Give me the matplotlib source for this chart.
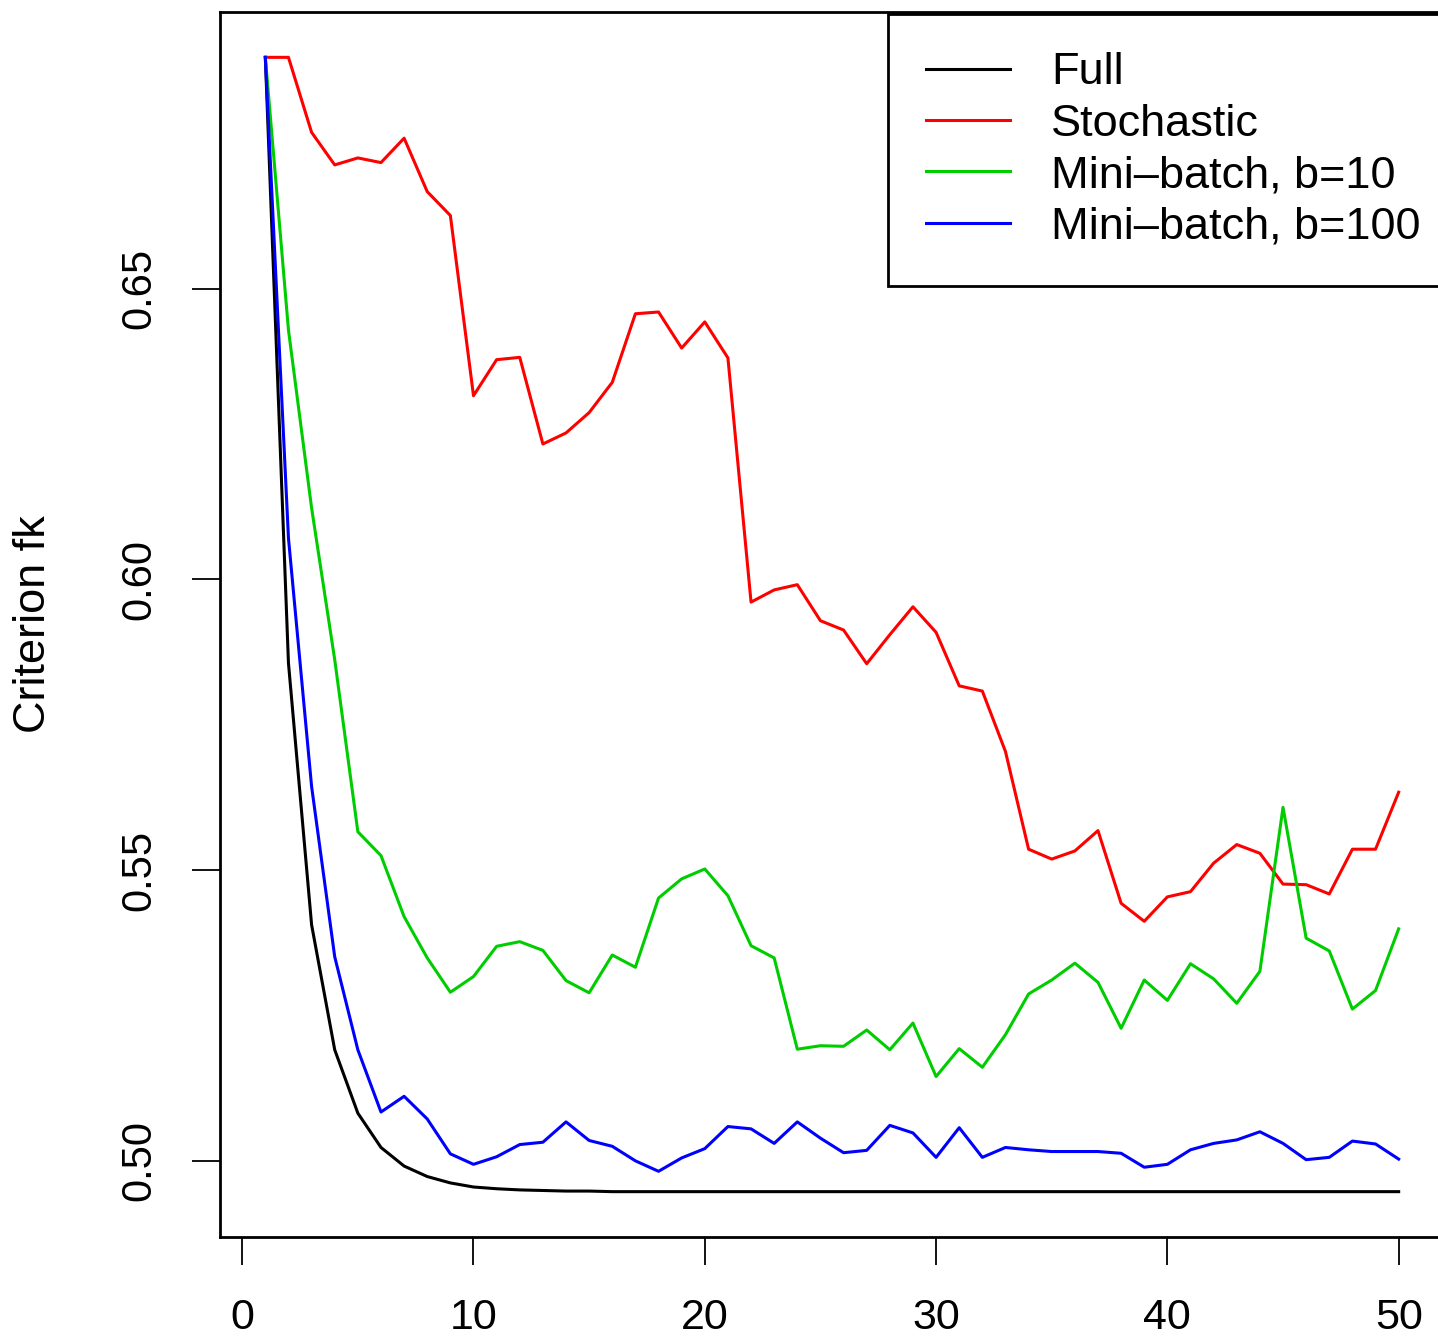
import numpy as np
import matplotlib
matplotlib.use("Agg")
import matplotlib.pyplot as plt

# iterations
k = np.arange(1, 51)

full = [0.6898, 0.5856, 0.5406, 0.5191, 0.5082, 0.5023, 0.4991, 0.4973, 0.4962, 0.4955,
        0.4952, 0.4950, 0.4949, 0.4948, 0.4948, 0.4947, 0.4947, 0.4947, 0.4947, 0.4947,
        0.4947, 0.4947, 0.4947, 0.4947, 0.4947, 0.4947, 0.4947, 0.4947, 0.4947, 0.4947,
        0.4947, 0.4947, 0.4947, 0.4947, 0.4947, 0.4947, 0.4947, 0.4947, 0.4947, 0.4947,
        0.4947, 0.4947, 0.4947, 0.4947, 0.4947, 0.4947, 0.4947, 0.4947, 0.4947, 0.4947]

stochastic = [0.6898, 0.6898, 0.6769, 0.6713, 0.6725, 0.6717, 0.6759, 0.6667, 0.6626, 0.6316,
              0.6378, 0.6382, 0.6233, 0.6252, 0.6287, 0.6339, 0.6457, 0.6460, 0.6398, 0.6443,
              0.6381, 0.5961, 0.5982, 0.5991, 0.5929, 0.5913, 0.5855, 0.5905, 0.5953, 0.5909,
              0.5817, 0.5808, 0.5704, 0.5536, 0.5519, 0.5533, 0.5568, 0.5443, 0.5412, 0.5454,
              0.5463, 0.5512, 0.5544, 0.5529, 0.5476, 0.5475, 0.5459, 0.5536, 0.5536, 0.5634]

mini10 = [0.6898, 0.6429, 0.6123, 0.5862, 0.5566, 0.5525, 0.5420, 0.5349, 0.5290, 0.5317,
          0.5369, 0.5377, 0.5362, 0.5310, 0.5289, 0.5354, 0.5333, 0.5452, 0.5485, 0.5502,
          0.5456, 0.5370, 0.5349, 0.5192, 0.5198, 0.5197, 0.5225, 0.5191, 0.5237, 0.5145,
          0.5193, 0.5161, 0.5217, 0.5287, 0.5311, 0.5340, 0.5307, 0.5228, 0.5311, 0.5276,
          0.5339, 0.5313, 0.5271, 0.5326, 0.5608, 0.5383, 0.5361, 0.5261, 0.5293, 0.5399]

mini100 = [0.6898, 0.6071, 0.5644, 0.5351, 0.5191, 0.5084, 0.5111, 0.5072, 0.5012, 0.4994,
           0.5007, 0.5028, 0.5032, 0.5067, 0.5035, 0.5025, 0.5000, 0.4982, 0.5005, 0.5021,
           0.5059, 0.5055, 0.5030, 0.5067, 0.5039, 0.5014, 0.5018, 0.5061, 0.5048, 0.5006,
           0.5057, 0.5006, 0.5023, 0.5019, 0.5016, 0.5016, 0.5016, 0.5013, 0.4989, 0.4994,
           0.5019, 0.5030, 0.5036, 0.5050, 0.5030, 0.5002, 0.5006, 0.5034, 0.5029, 0.5003]

series = [("Full", full, "black"),
          ("Stochastic", stochastic, "#ff0000"),
          ("Mini\u2013batch, b=10", mini10, "#00cd00"),
          ("Mini\u2013batch, b=100", mini100, "#0000ff")]

plt.rcParams["font.family"] = ["Liberation Sans", "DejaVu Sans"]

fig = plt.figure(figsize=(14.38, 13.42), dpi=100)
ax = fig.add_axes([220 / 1438, 105 / 1342, 1224 / 1438, 1225 / 1342])

for name, vals, col in series:
    ax.plot(k, vals, color=col, lw=2.2, label=name)

ax.set_xlim(-0.96, 51.96)
ax.set_ylim(0.4869, 0.6976)
ax.set_xticks([0, 10, 20, 30, 40, 50])
ax.set_yticks([0.50, 0.55, 0.60, 0.65])
ax.set_yticklabels(["0.50", "0.55", "0.60", "0.65"], rotation=90, va="center")
ax.tick_params(axis="both", direction="out", length=20, width=1.3, labelsize=30, pad=24)
ax.tick_params(axis="x", labelsize=31)
for s in ax.spines.values():
    s.set_linewidth(2.0)

ax.set_ylabel("Criterion fk", fontsize=32.5, labelpad=47)

# legend box placed at its left edge like R's topright legend, runs off the right side
leg = ax.legend(loc="upper left", bbox_to_anchor=((888 - 220) / 1224, (1237 - 14) / 1225),
                fontsize=32.5, frameon=True, fancybox=False, framealpha=1,
                edgecolor="black", borderaxespad=0, handlelength=1.86,
                handletextpad=0.9, labelspacing=0.23, borderpad=0.85)
leg.get_frame().set_linewidth(2.0)

fig.savefig("out.png", dpi=100)
